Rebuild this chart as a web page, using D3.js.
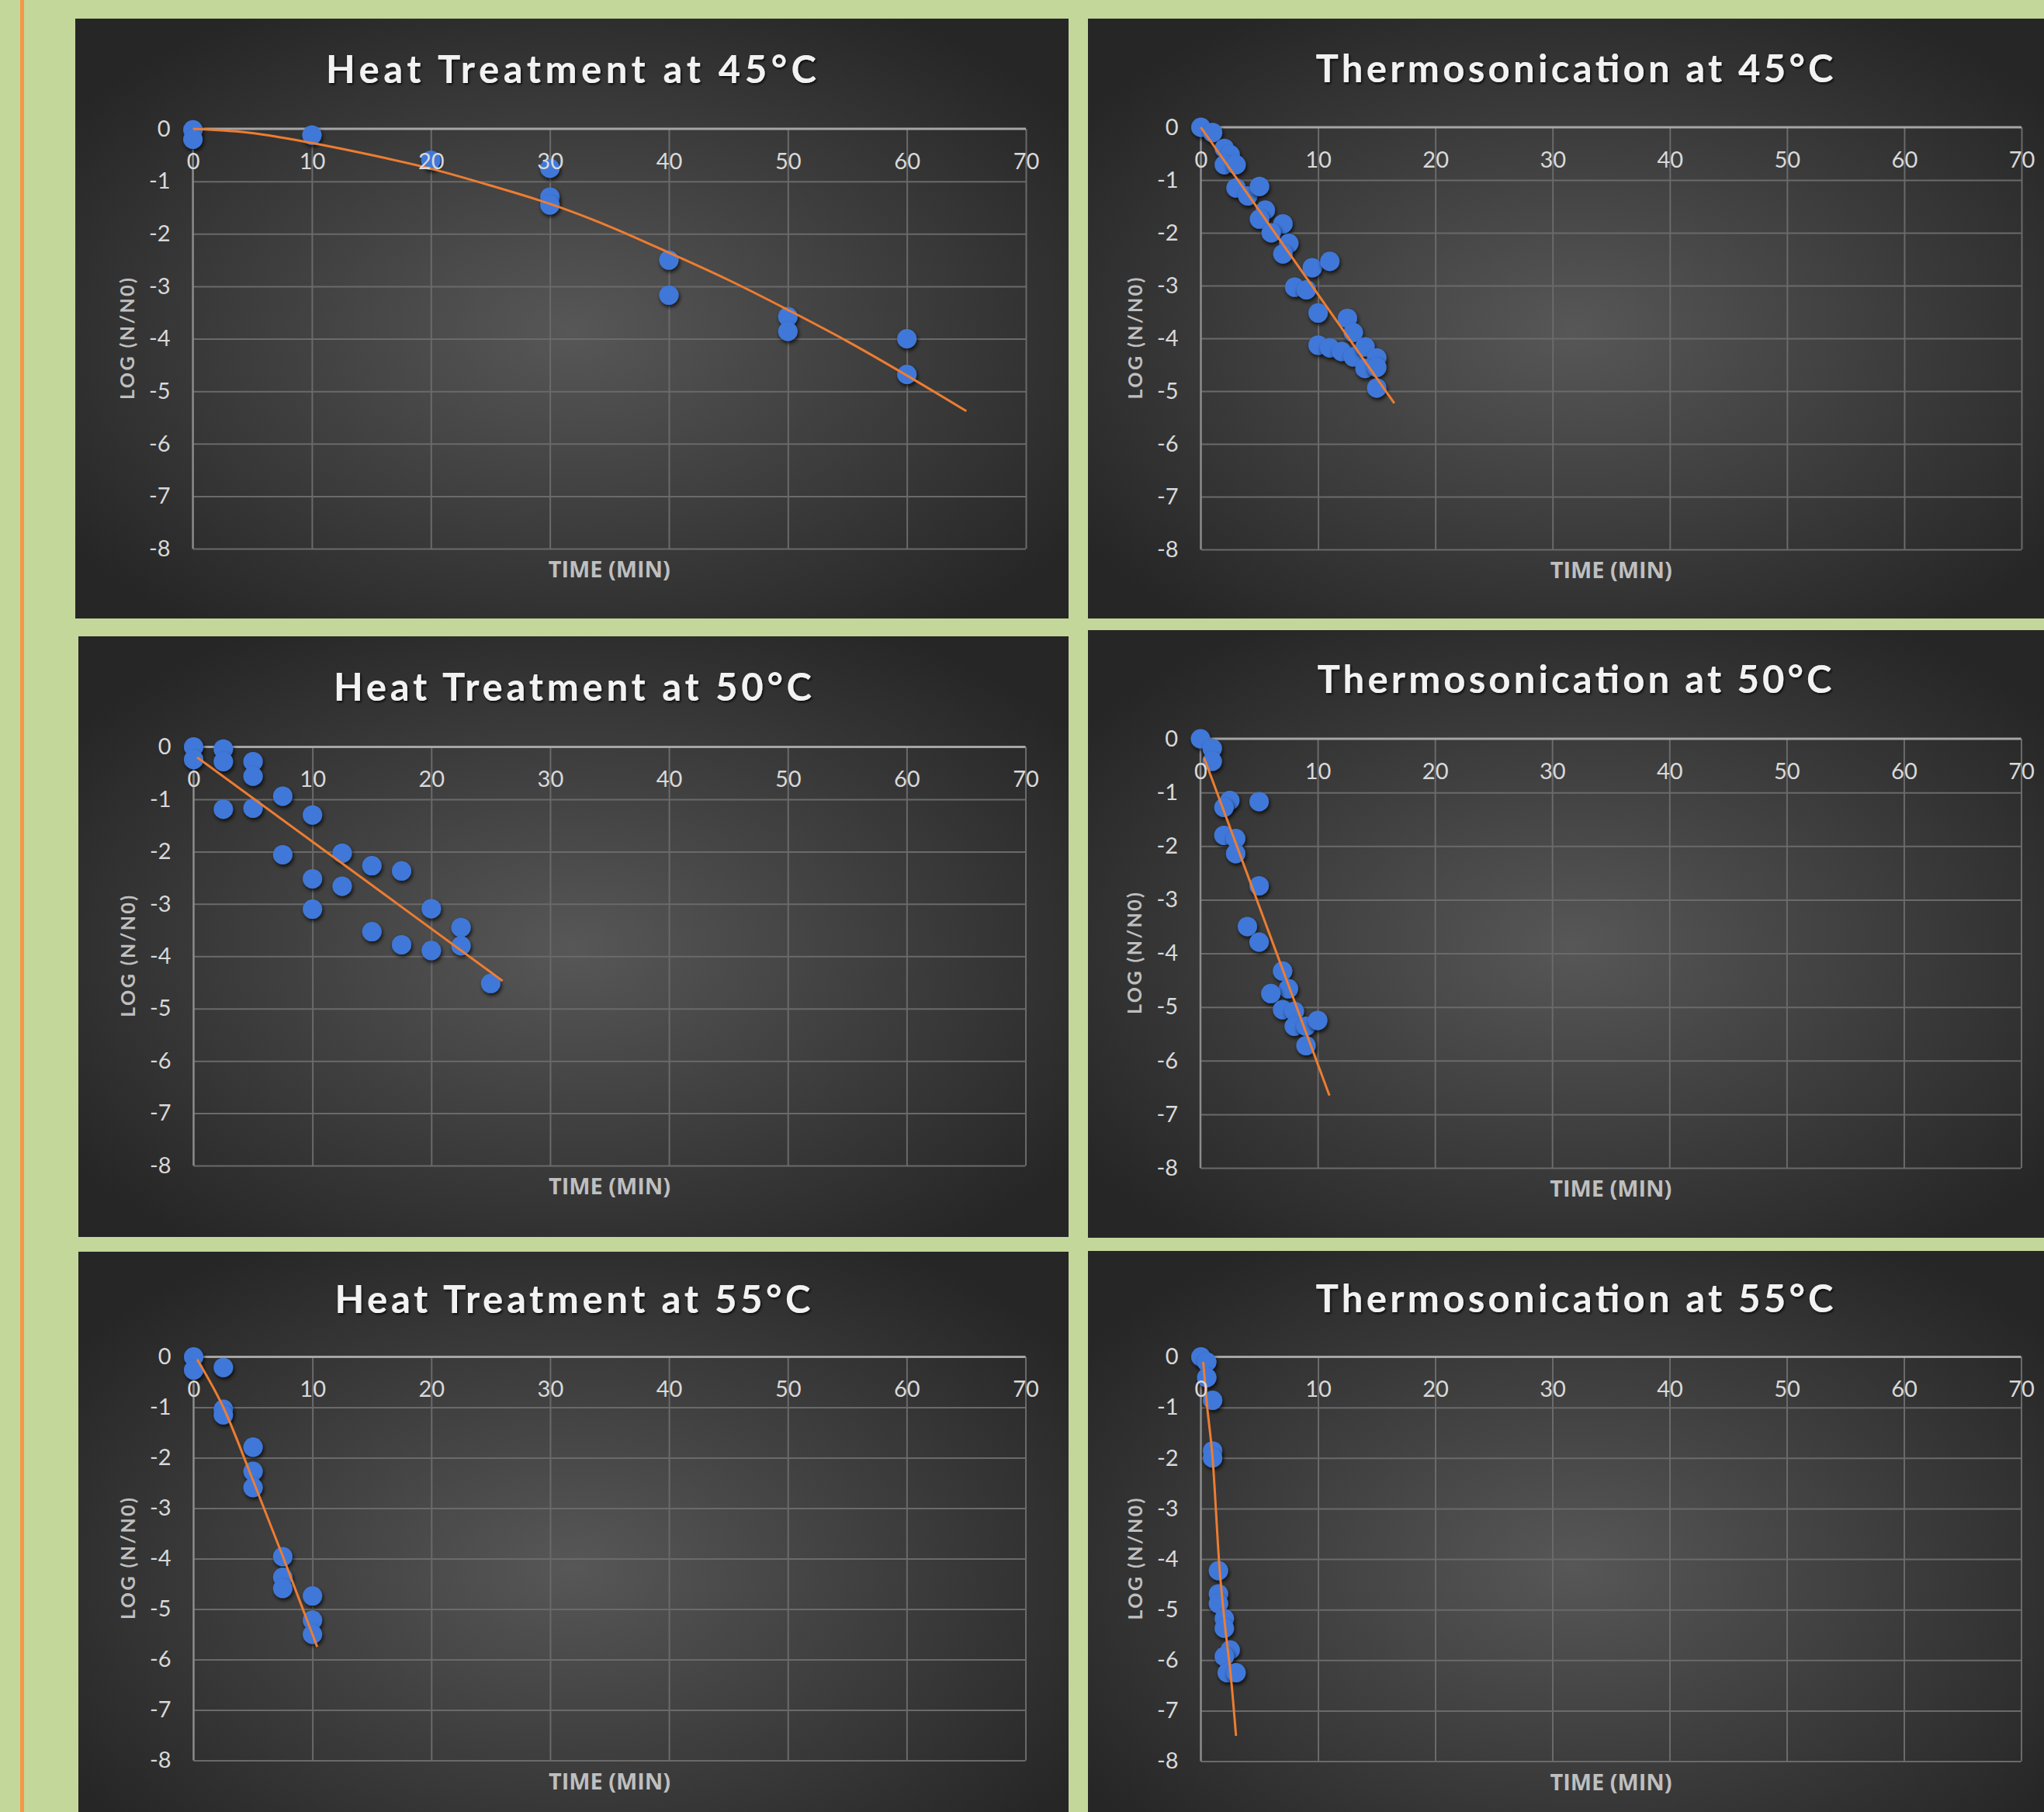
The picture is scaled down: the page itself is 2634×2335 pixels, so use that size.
<!DOCTYPE html>
<html>
<head>
<meta charset="utf-8">
<script src="https://cdn.jsdelivr.net/npm/d3@7"></script>
<style>
  html, body { margin: 0; padding: 0; background: #c4d79b; }
  svg { display: block; }
</style>
</head>
<body>
<svg id="chart" width="2634" height="2335"></svg>
<script>
// axis ticks shared by all six charts
const xTicks = [0, 10, 20, 30, 40, 50, 60, 70];
const yTicks = [0, -1, -2, -3, -4, -5, -6, -7, -8];

// [time (min), log(N/N0)]
const heat45Points = [[0, -0.02], [0, -0.2], [10, -0.12], [20, -0.6], [30, -0.75], [30, -1.3], [30, -1.45],
  [40, -2.5], [40, -3.17], [50, -3.58], [50, -3.86], [60, -4.0], [60, -4.68]];
const heat45Trend = [[0, 0], [5, -0.08], [10, -0.27], [15, -0.5], [20, -0.76], [25, -1.08], [30, -1.43],
  [35, -1.86], [40, -2.36], [45, -2.88], [50, -3.45], [55, -4.05], [60, -4.7], [65, -5.38]];

const thermo45Points = [[0, 0], [1, -0.1], [2, -0.4], [2.5, -0.52], [2, -0.71], [3, -0.71], [3, -1.15], [4, -1.3],
  [5, -1.12], [5.5, -1.57], [5, -1.74], [7, -1.83], [6, -2.0], [7.5, -2.2], [7, -2.4], [9.5, -2.66], [11, -2.54],
  [8, -3.03], [9, -3.08], [10, -3.52], [12.5, -3.62], [13, -3.89], [10, -4.13], [11, -4.18], [12, -4.25],
  [13, -4.35], [14, -4.16], [15, -4.37], [14, -4.57], [15, -4.55], [15, -4.94]];
const thermo45Trend = [[0, 0], [16.5, -5.23]];

const heat50Points = [[0, 0], [0, -0.24], [2.5, -0.04], [2.5, -0.28], [2.5, -1.19], [5, -0.28], [5, -0.56],
  [5, -1.17], [7.5, -0.94], [7.5, -2.06], [10, -1.3], [10, -2.52], [10, -3.1], [12.5, -2.03], [12.5, -2.66],
  [15, -2.27], [15, -3.53], [17.5, -2.37], [17.5, -3.78], [20, -3.09], [20, -3.89], [22.5, -3.45], [22.5, -3.8],
  [25, -4.52]];
const heat50Trend = [[0.3, -0.2], [26, -4.47]];

const thermo50Points = [[0, 0], [1, -0.18], [1, -0.42], [2.5, -1.15], [2, -1.28], [5, -1.17], [2, -1.8],
  [3, -1.86], [3, -2.14], [5, -2.74], [4, -3.5], [5, -3.79], [7, -4.33], [7.5, -4.66], [6, -4.75], [7, -5.05],
  [8, -5.08], [8, -5.36], [9, -5.36], [10, -5.25], [9, -5.72]];
const thermo50Trend = [[0.3, -0.35], [11, -6.65]];

const heat55Points = [[0, 0], [0, -0.26], [2.5, -0.21], [2.5, -1.04], [2.5, -1.15], [5, -1.79], [5, -2.27],
  [5, -2.59], [7.5, -3.96], [7.5, -4.37], [7.5, -4.59], [10, -4.74], [10, -5.22], [10, -5.5]];
const heat55Trend = [[0.3, -0.05], [2.5, -1.0], [5, -2.45], [7.5, -3.95], [10.4, -5.75]];

const thermo55Points = [[0, 0], [0.5, -0.1], [0.5, -0.41], [1, -0.86], [1, -1.86], [1, -2.0], [1.5, -4.23],
  [1.5, -4.69], [1.5, -4.88], [2, -5.18], [2, -5.37], [2.5, -5.8], [2, -5.93], [2.25, -6.25], [3, -6.25]];
const thermo55Trend = [[0.2, -0.1], [0.5, -0.9], [1.0, -2.0], [1.6, -4.2], [2.1, -5.4], [2.55, -6.3], [3.0, -7.5]];

const xTitle = 'TIME (MIN)';
const yTitle = 'LOG (N/N0)';

// layout of each chart box on the page
const panels = [
  { title: 'Heat Treatment at 45°C', pts: heat45Points, trend: heat45Trend,
    box: [97, 24, 1280, 773], plot: [248.6, 1322, 166, 707], tx: 736, ty: 107, tw: 632 },
  { title: 'Thermosonication at 45°C', pts: thermo45Points, trend: thermo45Trend,
    box: [1402, 24, 1252, 773], plot: [1547.5, 2605, 164, 708], tx: 2029, ty: 106, tw: 667 },
  { title: 'Heat Treatment at 50°C', pts: heat50Points, trend: heat50Trend,
    box: [101, 820, 1276, 774], plot: [249.5, 1321.5, 962.5, 1502], tx: 738, ty: 903, tw: 616 },
  { title: 'Thermosonication at 50°C', pts: thermo50Points, trend: thermo50Trend,
    box: [1402, 812, 1252, 783], plot: [1547, 2604.5, 952, 1505], tx: 2029, ty: 893, tw: 663 },
  { title: 'Heat Treatment at 55°C', pts: heat55Points, trend: heat55Trend,
    box: [101, 1613, 1276, 780], plot: [249.5, 1321.5, 1748.5, 2268.5], tx: 738, ty: 1692, tw: 613 },
  { title: 'Thermosonication at 55°C', pts: thermo55Points, trend: thermo55Trend,
    box: [1402, 1612, 1252, 780], plot: [1547.5, 2604.5, 1748.5, 2269.5], tx: 2029, ty: 1691, tw: 667 }
];

const svg = d3.select('#chart');
const defs = svg.append('defs');

const grad = defs.append('radialGradient').attr('id', 'panelBg')
  .attr('cx', '50%').attr('cy', '52%').attr('r', '62%');
grad.append('stop').attr('offset', '0%').attr('stop-color', '#575757');
grad.append('stop').attr('offset', '100%').attr('stop-color', '#262626');

defs.append('filter').attr('id', 'dotShadow').attr('x', '-50%').attr('y', '-50%').attr('width', '200%').attr('height', '200%')
  .append('feDropShadow').attr('dx', 1.5).attr('dy', 3).attr('stdDeviation', 2.5)
  .attr('flood-color', '#000').attr('flood-opacity', 0.75);
defs.append('filter').attr('id', 'textShadow').attr('x', '-10%').attr('y', '-30%').attr('width', '120%').attr('height', '160%')
  .append('feDropShadow').attr('dx', 1.5).attr('dy', 2).attr('stdDeviation', 1.5)
  .attr('flood-color', '#000').attr('flood-opacity', 0.8);

// orange rule on the page margin
svg.append('rect').attr('x', 26).attr('y', 0).attr('width', 5).attr('height', 2335).attr('fill', '#f79646');

function drawPanel(p) {
  const [bx, by, bw, bh] = p.box;
  const [l, r, t, b] = p.plot;
  const g = svg.append('g');

  g.append('rect').attr('x', bx).attr('y', by).attr('width', bw).attr('height', bh)
    .attr('fill', 'url(#panelBg)');

  const x = d3.scaleLinear().domain([0, 70]).range([l, r]);
  const y = d3.scaleLinear().domain([-8, 0]).range([b, t]);

  // gridlines
  g.append('g').attr('transform', `translate(0,${b})`)
    .call(d3.axisBottom(x).tickValues(xTicks.slice(1)).tickSize(-(b - t)).tickFormat(''))
    .call(s => s.select('.domain').remove())
    .call(s => s.selectAll('line').attr('stroke', '#6a6a6a').attr('stroke-width', 2));
  g.append('g').attr('transform', `translate(${l},0)`)
    .call(d3.axisLeft(y).tickValues(yTicks.slice(1)).tickSize(-(r - l)).tickFormat(''))
    .call(s => s.select('.domain').remove())
    .call(s => s.selectAll('line').attr('stroke', '#6a6a6a').attr('stroke-width', 2));

  // axis lines
  g.append('line').attr('x1', x(0)).attr('x2', x(0)).attr('y1', y(0)).attr('y2', y(-8))
    .attr('stroke', '#8c8c8c').attr('stroke-width', 2.5);
  g.append('line').attr('x1', x(0)).attr('x2', x(70)).attr('y1', y(0)).attr('y2', y(0))
    .attr('stroke', '#a6a6a6').attr('stroke-width', 3);

  // points
  g.append('g').selectAll('circle').data(p.pts).join('circle')
    .attr('cx', d => x(d[0])).attr('cy', d => y(d[1])).attr('r', 12.5)
    .attr('fill', '#3f78d9').attr('filter', 'url(#dotShadow)');

  // trendline
  g.append('path').datum(p.trend)
    .attr('d', d3.line().x(d => x(d[0])).y(d => y(d[1])).curve(d3.curveMonotoneX))
    .attr('fill', 'none').attr('stroke', '#ed7d31').attr('stroke-width', 3);

  // tick labels
  g.append('g').attr('transform', `translate(0,${y(0)})`)
    .call(d3.axisBottom(x).tickValues(xTicks).tickSize(0).tickPadding(31).tickFormat(d => String(d)))
    .call(s => s.select('.domain').remove())
    .call(s => s.selectAll('text').attr('fill', '#d9d9d9')
      .style('font-family', 'Lato, "Open Sans", sans-serif').style('font-size', '29px'));
  g.append('g').attr('transform', `translate(${x(0)},0)`)
    .call(d3.axisLeft(y).tickValues(yTicks).tickSize(0).tickPadding(29).tickFormat(d => String(d)))
    .call(s => s.select('.domain').remove())
    .call(s => s.selectAll('text').attr('fill', '#d9d9d9')
      .style('font-family', 'Lato, "Open Sans", sans-serif').style('font-size', '29px'));

  // titles
  g.append('text').attr('x', p.tx).attr('y', p.ty).attr('text-anchor', 'middle')
    .attr('textLength', p.tw).attr('lengthAdjust', 'spacing')
    .attr('fill', '#f2f2f2').attr('filter', 'url(#textShadow)')
    .style('font-family', 'Lato, "Open Sans", sans-serif').style('font-weight', 700).style('font-size', '49px')
    .text(p.title);

  g.append('text').attr('x', (l + r) / 2).attr('y', b + 37).attr('text-anchor', 'middle')
    .attr('textLength', 157).attr('lengthAdjust', 'spacingAndGlyphs')
    .attr('fill', '#bfbfbf')
    .style('font-family', '"Liberation Sans Narrow", "Open Sans", sans-serif').style('font-weight', 700).style('font-size', '29px')
    .text(xTitle);

  g.append('text').attr('transform', `translate(${l - 76},${(t + b) / 2}) rotate(-90)`)
    .attr('text-anchor', 'middle').attr('textLength', 157).attr('lengthAdjust', 'spacing')
    .attr('fill', '#bfbfbf')
    .style('font-family', 'Lato, "Open Sans", sans-serif').style('font-weight', 700).style('font-size', '25px')
    .text(yTitle);
}

panels.forEach(drawPanel);
</script>
</body>
</html>
